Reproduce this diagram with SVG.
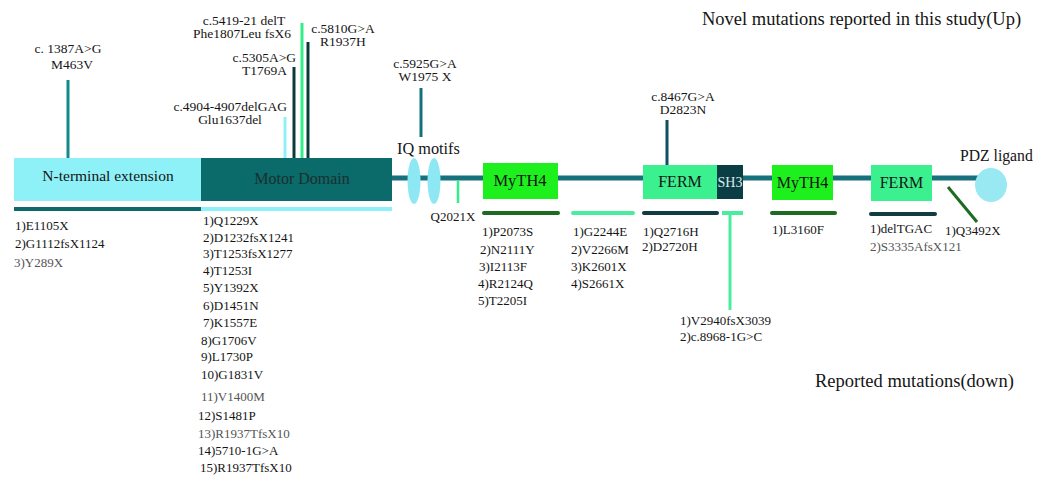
<svg xmlns="http://www.w3.org/2000/svg" width="1044" height="481" viewBox="0 0 1044 481">
<style>
text{font-family:"Liberation Serif","Times New Roman",serif;fill:#151515}
.s{font-size:13px}
.t{font-size:13.5px}
.g{fill:#555}
.c{text-anchor:middle}
.e{text-anchor:end}
.dom{font-size:16px;text-anchor:middle}
.ln{stroke-width:3;fill:none}
</style>
<rect width="1044" height="481" fill="#fff"/>
<g id="connectors">
<line x1="392" y1="178" x2="980" y2="178" stroke="#17707c" stroke-width="5"/>
<line class="ln" x1="68" y1="80" x2="68" y2="158" stroke="#138a8a"/>
<line class="ln" x1="285" y1="117" x2="285" y2="158" stroke="#8ef1f7"/>
<line class="ln" x1="294" y1="67" x2="294" y2="158" stroke="#0b3a3a"/>
<line class="ln" x1="302" y1="23" x2="302" y2="158" stroke="#33ee88"/>
<line class="ln" x1="308" y1="42" x2="308" y2="158" stroke="#0b3a3a"/>
<line class="ln" x1="421" y1="88" x2="421" y2="137" stroke="#13707a"/>
<line class="ln" x1="667" y1="120" x2="667" y2="165" stroke="#0f4f5f"/>
<line x1="458" y1="180" x2="458" y2="203" stroke="#33ee88" stroke-width="2.5"/>
<line class="ln" x1="730" y1="213" x2="730" y2="310" stroke="#4cec9e"/>
<line class="ln" x1="948" y1="187" x2="977" y2="222" stroke="#1d6b22"/>
<line x1="14" y1="209" x2="201" y2="209" stroke="#0d6a6a" stroke-width="4"/>
<line x1="201" y1="209" x2="392" y2="209" stroke="#8ef1f7" stroke-width="4"/>
<line x1="484" y1="213" x2="558" y2="213" stroke="#1d6b22" stroke-width="4" stroke-linecap="round"/>
<line x1="573" y1="213" x2="633" y2="213" stroke="#4cec9e" stroke-width="4" stroke-linecap="round"/>
<line x1="644" y1="213" x2="717" y2="213" stroke="#123c44" stroke-width="4" stroke-linecap="round"/>
<line x1="722" y1="213" x2="743" y2="213" stroke="#4cec9e" stroke-width="4"/>
<line x1="772" y1="213" x2="835" y2="213" stroke="#1d6b22" stroke-width="4" stroke-linecap="round"/>
<line x1="871" y1="214" x2="935" y2="214" stroke="#123c44" stroke-width="4" stroke-linecap="round"/>
</g>
<g id="n-terminal">
<rect x="14" y="158" width="187" height="43" fill="#8ef1f7"/>
<text x="108" y="181" style="font-size:15.5px;text-anchor:middle">N-terminal extension</text>
</g>
<g id="motor-domain">
<rect x="201" y="158" width="191" height="43" fill="#0b6a6a"/>
<text x="302" y="184" class="dom" style="fill:#1a3030">Motor Domain</text>
</g>
<g id="iq-motifs">
<ellipse cx="414" cy="181" rx="6.5" ry="23" fill="#8ee8f4"/>
<ellipse cx="434" cy="181" rx="6.5" ry="23" fill="#8ee8f4"/>
<text x="397" y="154" style="font-size:16.3px">IQ motifs</text>
</g>
<g id="myth4-1">
<rect x="483" y="163" width="75" height="36" fill="#1ef01e"/>
<text x="520" y="186" class="dom" style="font-size:16.5px">MyTH4</text>
</g>
<g id="ferm-1">
<rect x="643" y="165" width="74" height="34" fill="#3bf08e"/>
<text x="680" y="187" class="dom">FERM</text>
</g>
<g id="sh3">
<rect x="717" y="165" width="26" height="34" fill="#0b3d44"/>
<text x="730" y="187" style="font-size:14px;text-anchor:middle;fill:#d8eef0">SH3</text>
</g>
<g id="myth4-2">
<rect x="772" y="165" width="61" height="35" fill="#1ef01e"/>
<text x="802.5" y="188" class="dom">MyTH4</text>
</g>
<g id="ferm-2">
<rect x="871" y="165" width="61" height="36" fill="#3bf08e"/>
<text x="901.5" y="188" class="dom">FERM</text>
</g>
<g id="pdz-ligand">
<ellipse cx="991" cy="185" rx="16" ry="17" fill="#98e9f2"/>
<text x="960" y="161" style="font-size:15.7px">PDZ ligand</text>
</g>
<g id="labels-up">
<text x="68" y="53" class="t c">c. 1387A&gt;G</text>
<text x="72" y="69" class="t c">M463V</text>
<text x="244" y="25" class="t c">c.5419-21 delT</text>
<text x="242" y="38" class="t c">Phe1807Leu fsX6</text>
<text x="343" y="33" class="t c">c.5810G&gt;A</text>
<text x="343" y="46" class="t c">R1937H</text>
<text x="296" y="62" class="t e">c.5305A&gt;G</text>
<text x="287" y="75" class="t e">T1769A</text>
<text x="287" y="111" class="t e">c.4904-4907delGAG</text>
<text x="230" y="124" class="t c">Glu1637del</text>
<text x="425" y="68" class="t c">c.5925G&gt;A</text>
<text x="425" y="81" class="t c">W1975 X</text>
<text x="683" y="101" class="t c">c.8467G&gt;A</text>
<text x="683" y="114" class="t c">D2823N</text>
<text x="702" y="25" style="font-size:18.5px">Novel mutations reported in this study(Up)</text>
<text x="815" y="387" style="font-size:18.5px">Reported mutations(down)</text>
</g>
<g id="labels-down">
<text x="453" y="221" class="s c">Q2021X</text>
<text x="15" y="230" class="s">1)E1105X</text>
<text x="15" y="248" class="s">2)G1112fsX1124</text>
<text x="14" y="267" class="s g">3)Y289X</text>
<text x="203" y="225" class="s">1)Q1229X</text>
<text x="203" y="242" class="s">2)D1232fsX1241</text>
<text x="203" y="258" class="s">3)T1253fsX1277</text>
<text x="203" y="275" class="s">4)T1253I</text>
<text x="203" y="292" class="s">5)Y1392X</text>
<text x="203" y="310" class="s">6)D1451N</text>
<text x="203" y="327" class="s">7)K1557E</text>
<text x="201" y="345" class="s">8)G1706V</text>
<text x="201" y="361" class="s">9)L1730P</text>
<text x="201" y="379" class="s">10)G1831V</text>
<text x="201" y="401" class="s g">11)V1400M</text>
<text x="198" y="420" class="s">12)S1481P</text>
<text x="198" y="438" class="s g">13)R1937TfsX10</text>
<text x="198" y="455" class="s">14)5710-1G&gt;A</text>
<text x="200" y="472" class="s">15)R1937TfsX10</text>
<text x="482" y="236" class="s">1)P2073S</text>
<text x="480" y="254" class="s">2)N2111Y</text>
<text x="479" y="271" class="s">3)I2113F</text>
<text x="478" y="288" class="s">4)R2124Q</text>
<text x="478" y="305" class="s">5)T2205I</text>
<text x="573" y="236" class="s">1)G2244E</text>
<text x="571" y="254" class="s">2)V2266M</text>
<text x="571" y="271" class="s">3)K2601X</text>
<text x="571" y="288" class="s">4)S2661X</text>
<text x="643" y="236" class="s">1)Q2716H</text>
<text x="642" y="251" class="s">2)D2720H</text>
<text x="680" y="325" class="s">1)V2940fsX3039</text>
<text x="680" y="341" class="s">2)c.8968-1G&gt;C</text>
<text x="772" y="234" class="s">1)L3160F</text>
<text x="870" y="233" class="s">1)delTGAC</text>
<text x="870" y="251" class="s g">2)S3335AfsX121</text>
<text x="945" y="235" class="s">1)Q3492X</text>
</g>
</svg>
